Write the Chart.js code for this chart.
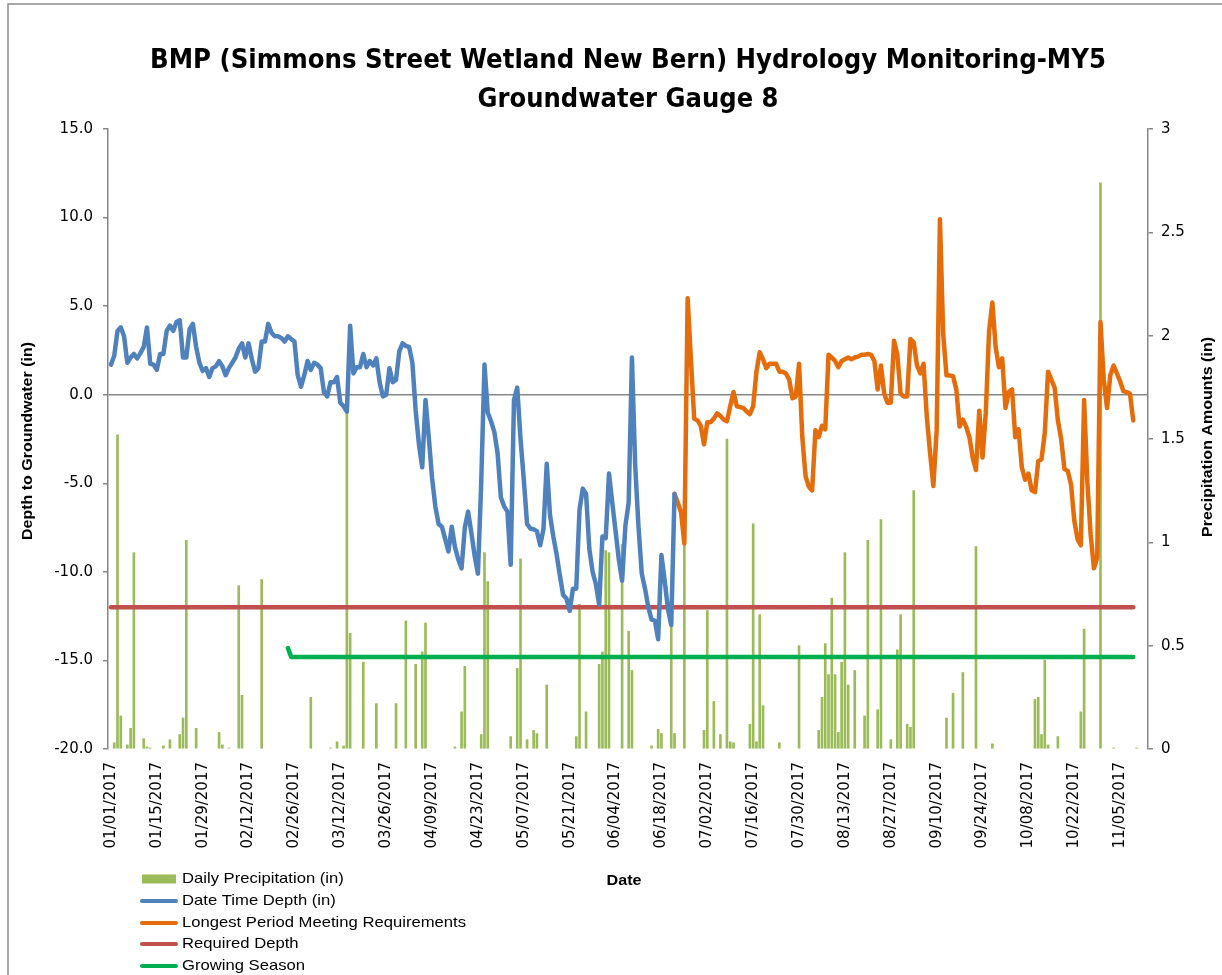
<!DOCTYPE html>
<html>
<head>
<meta charset="utf-8">
<title>Groundwater Gauge 8</title>
<script src="https://cdn.jsdelivr.net/npm/chart.js"></script>
<style>
  html, body { margin: 0; padding: 0; background: #fff; }
  #wrap { position: relative; width: 1222px; height: 975px; }
</style>
</head>
<body>
<div id="wrap"><canvas id="chart"></canvas></div>
<script>
// day 0 of the record
const startDate = new Date(2017, 0, 1);

// x labels every two weeks (days after startDate)
const labelDays = [0, 14, 28, 42, 56, 70, 84, 98, 112, 126, 140, 154, 168, 182, 196, 210, 224, 238, 252, 266, 280, 294, 308];

// Date Time Depth (in), one value a day from day 0 to day 172
const depthDaily = [
  1.7, 2.2, 3.6, 3.8, 3.3, 1.8, 2.1, 2.3, 2.05, 2.35,
  2.7, 3.8, 1.75, 1.7, 1.4, 2.3, 2.3, 3.6, 3.9, 3.6,
  4.1, 4.2, 2.1, 2.1, 3.7, 4.0, 2.7, 1.8, 1.35, 1.5,
  1.0, 1.5, 1.6, 1.9, 1.6, 1.1, 1.5, 1.8, 2.1, 2.6,
  2.9, 2.1, 2.9, 2.0, 1.3, 1.5, 3.0, 3.0, 4.0, 3.5,
  3.3, 3.3, 3.2, 3.0, 3.3, 3.15, 3.0, 1.1, 0.45, 1.1,
  1.9, 1.4, 1.8, 1.7, 1.5, 0.15, -0.1, 0.7, 0.7, 1.0,
  -0.45, -0.65, -0.95, 3.9, 1.2, 1.55, 1.55, 2.3, 1.55, 1.9,
  1.65, 2.05, 0.7, -0.1, 0.0, 1.5, 0.7, 0.85, 2.45, 2.9,
  2.75, 2.7, 1.8, -0.9, -2.8, -4.1, -0.3, -2.4, -4.7, -6.3,
  -7.3, -7.45, -8.15, -8.85, -7.45, -8.6, -9.3, -9.8, -7.5, -6.6,
  -7.8, -9.1, -10.1, -5.0, 1.7, -1.0, -1.5, -2.1, -3.3, -5.8,
  -6.3, -6.6, -9.6, -0.3, 0.4, -2.5, -4.8, -7.3, -7.55, -7.6,
  -7.7, -8.5, -7.6, -3.9, -6.8, -8.0, -9.0, -10.2, -11.3, -11.5,
  -12.2, -10.95, -10.95, -6.5, -5.3, -5.6, -8.7, -10.0, -10.7, -11.85,
  -8.0, -8.1, -4.45, -6.1, -7.7, -9.3, -10.5, -7.4, -6.1, 2.1,
  -4.0, -7.45, -10.1, -10.95, -12.0, -12.7, -12.75, -13.8, -9.05, -10.5,
  -12.1, -13.0, -5.6
];

// Longest Period Meeting Requirements (in), day 172 to day 312
const longestFirstDay = 172;
const longestDaily = [
  -5.6, -6.1, -6.65, -8.4, 5.45, 2.0, -1.35, -1.45, -1.75, -2.8,
  -1.55, -1.55, -1.35, -1.05, -1.2, -1.4, -1.5, -0.65, 0.15, -0.65,
  -0.7, -0.75, -0.95, -1.1, -0.65, 1.3, 2.4, 2.0, 1.5, 1.75,
  1.75, 1.75, 1.3, 1.3, 1.2, 0.85, -0.2, -0.1, 1.75, -2.4,
  -4.6, -5.2, -5.4, -2.0, -2.4, -1.75, -1.95, 2.25, 2.1, 1.9,
  1.55, 1.9, 2.0, 2.1, 2.0, 2.1, 2.15, 2.25, 2.25, 2.3,
  2.25, 1.9, 0.3, 1.65, 0.05, -0.45, -0.45, 3.05, 2.25, 0.05,
  -0.1, -0.1, 3.15, 2.95, 1.65, 1.2, 1.75, -1.25, -3.3, -5.15,
  -2.0, 9.9, 3.4, 1.1, 1.08, 1.05, 0.3, -1.8, -1.4, -1.8,
  -2.4, -3.55, -4.25, -0.9, -3.55, -1.0, 3.6, 5.2, 2.7, 1.55,
  2.05, -0.75, 0.15, 0.3, -2.4, -1.95, -4.1, -4.8, -4.45, -5.4,
  -5.5, -3.75, -3.65, -2.15, 1.3, 0.85, 0.4, -1.45, -2.5, -4.2,
  -4.3, -5.05, -7.1, -8.15, -8.5, -0.3, -4.95, -7.9, -9.8, -9.2,
  4.1, 0.85, -0.75, 1.1, 1.65, 1.2, 0.75, 0.2, 0.15, 0.05,
  -1.45
];

// Required Depth (in)
const requiredDays = [0, 312];
const requiredDepth = [-12, -12];

// Growing Season
const growingDays = [54, 55, 312];
const growingDepth = [-14.3, -14.8, -14.8];

// Daily Precipitation (in), only the days with rain
const precipDays = [
  1, 2, 3, 5, 6, 7, 10, 11, 12, 16,
  18, 21, 22, 23, 26, 33, 34, 36, 39, 40,
  46, 61, 67, 69, 71, 72, 73, 77, 81, 87,
  90, 93, 95, 96, 105, 107, 108, 113, 114, 115,
  122, 124, 125, 127, 129, 130, 133, 142, 143, 145,
  149, 150, 151, 152, 156, 158, 159, 165, 167, 168,
  171, 172, 175, 181, 182, 184, 186, 188, 189, 190,
  195, 196, 197, 198, 199, 204, 210, 216, 217, 218,
  219, 220, 221, 222, 223, 224, 225, 227, 230, 231,
  234, 235, 238, 240, 241, 243, 244, 245, 255, 257,
  260, 264, 269, 282, 283, 284, 285, 286, 289, 296,
  297, 302, 306, 313
];
const precipIn = [
  0.03, 1.52, 0.16, 0.02, 0.10, 0.95, 0.05, 0.01, 0.005, 0.015,
  0.045, 0.07, 0.15, 1.01, 0.10, 0.08, 0.02, 0.005, 0.79, 0.26,
  0.82, 0.25, 0.005, 0.035, 0.015, 1.68, 0.56, 0.42, 0.22, 0.22,
  0.62, 0.41, 0.47, 0.61, 0.01, 0.18, 0.40, 0.07, 0.95, 0.81,
  0.06, 0.39, 0.92, 0.045, 0.09, 0.075, 0.31, 0.06, 0.70, 0.18,
  0.41, 0.47, 0.96, 0.95, 0.99, 0.57, 0.38, 0.015, 0.095, 0.075,
  0.61, 0.075, 1.05, 0.09, 0.67, 0.23, 0.07, 1.50, 0.035, 0.03,
  0.12, 1.09, 0.035, 0.65, 0.21, 0.03, 0.50, 0.09, 0.25, 0.51,
  0.36, 0.73, 0.36, 0.08, 0.42, 0.95, 0.31, 0.38, 0.16, 1.01,
  0.19, 1.11, 0.045, 0.48, 0.65, 0.12, 0.105, 1.25, 0.15, 0.27,
  0.37, 0.98, 0.025, 0.24, 0.25, 0.07, 0.43, 0.02, 0.06, 0.18,
  0.58, 2.74, 0.005, 0.005
];

const colors = {
  precip: '#9BBB59',
  depth: '#4F81BD',
  longest: '#E46C0A',
  required: '#C0504D',
  growing: '#00B050',
  axis: '#868686'
};

function fmtDate(day) {
  const d = new Date(startDate.getFullYear(), startDate.getMonth(), startDate.getDate() + day);
  const mm = String(d.getMonth() + 1).padStart(2, '0');
  const dd = String(d.getDate()).padStart(2, '0');
  return mm + '/' + dd + '/' + d.getFullYear();
}

function toPoints(days, values) {
  return values.map((y, i) => ({ x: days[i], y: y }));
}

function dailyPoints(firstDay, values) {
  return values.map((y, i) => ({ x: firstDay + i, y: y }));
}

// text squeezed / stretched to the width it has in the picture
function fittedText(ctx, text, x, y, width, font, align) {
  ctx.font = font;
  const natural = ctx.measureText(text).width;
  ctx.save();
  ctx.translate(x, y);
  ctx.scale(width / natural, 1);
  ctx.textAlign = align;
  ctx.fillText(text, 0, 0);
  ctx.restore();
}

const sheetDecor = {
  id: 'sheetDecor',
  beforeDraw(chart) {
    const { ctx, width, height } = chart;
    ctx.save();
    ctx.fillStyle = '#fff';
    ctx.fillRect(0, 0, width, height);
    ctx.strokeStyle = '#8c8c8c';
    ctx.lineWidth = 1.5;
    ctx.beginPath();
    ctx.moveTo(8, height + 5);
    ctx.lineTo(8, 4);
    ctx.lineTo(width + 5, 4);
    ctx.stroke();
    ctx.restore();
  },
  afterDraw(chart) {
    const ctx = chart.ctx;
    ctx.save();
    ctx.fillStyle = '#000';
    ctx.textBaseline = 'alphabetic';

    // title
    const titleFont = 'bold 26px "DejaVu Sans", sans-serif';
    fittedText(ctx, 'BMP (Simmons Street Wetland New Bern) Hydrology Monitoring-MY5', 628, 68, 956, titleFont, 'center');
    fittedText(ctx, 'Groundwater Gauge 8', 628, 107, 301, titleFont, 'center');

    // axis titles
    const axisFont = 'bold 14px "Liberation Sans", Arial, sans-serif';
    ctx.textBaseline = 'middle';
    ctx.save();
    ctx.translate(28, 441);
    ctx.rotate(-Math.PI / 2);
    fittedText(ctx, 'Depth to Groundwater (in)', 0, 0, 198, axisFont, 'center');
    ctx.restore();
    ctx.save();
    ctx.translate(1208, 437);
    ctx.rotate(-Math.PI / 2);
    fittedText(ctx, 'Precipitation Amounts (in)', 0, 0, 200, axisFont, 'center');
    ctx.restore();
    fittedText(ctx, 'Date', 624, 881, 35, 'bold 15px "Liberation Sans", Arial, sans-serif', 'center');

    // legend, one entry a row
    const legendFont = '15px "Liberation Sans", Arial, sans-serif';
    ctx.font = legendFont;
    const sets = chart.data.datasets;
    const longest = Math.max(...sets.map(s => ctx.measureText(s.label).width));
    const sx = 284 / longest;
    const rows = [879, 901, 923, 944, 966];
    sets.forEach((s, i) => {
      const y = rows[i];
      if (s.type === 'bar') {
        ctx.fillStyle = s.backgroundColor;
        ctx.fillRect(142, y - 4.5, 34, 9);
      } else {
        ctx.strokeStyle = s.borderColor;
        ctx.lineWidth = 4;
        ctx.lineCap = 'round';
        ctx.beginPath();
        ctx.moveTo(142, y);
        ctx.lineTo(176, y);
        ctx.stroke();
      }
      ctx.fillStyle = '#000';
      ctx.font = legendFont;
      const w = ctx.measureText(s.label).width * sx;
      fittedText(ctx, s.label, 182, y, w, legendFont, 'left');
    });
    ctx.restore();
  }
};

const tickFont = { family: '"DejaVu Sans", sans-serif', size: 15 };

new Chart(document.getElementById('chart'), {
  type: 'line',
  data: {
    datasets: [
      {
        type: 'bar',
        label: 'Daily Precipitation (in)',
        data: toPoints(precipDays, precipIn),
        yAxisID: 'y1',
        backgroundColor: colors.precip,
        barThickness: 2,
        order: 5
      },
      {
        label: 'Date Time Depth (in)',
        data: dailyPoints(0, depthDaily),
        yAxisID: 'y',
        borderColor: colors.depth,
        order: 1
      },
      {
        label: 'Longest Period Meeting Requirements',
        data: dailyPoints(longestFirstDay, longestDaily),
        yAxisID: 'y',
        borderColor: colors.longest,
        order: 1
      },
      {
        label: 'Required Depth',
        data: toPoints(requiredDays, requiredDepth),
        yAxisID: 'y',
        borderColor: colors.required,
        order: 3
      },
      {
        label: 'Growing Season',
        data: toPoints(growingDays, growingDepth),
        yAxisID: 'y',
        borderColor: colors.growing,
        order: 3
      }
    ]
  },
  options: {
    responsive: true,
    maintainAspectRatio: false,
    animation: false,
    devicePixelRatio: 1,
    layout: { padding: { top: 129, left: 0, right: 0, bottom: 0 } },
    plugins: {
      legend: { display: false },
      title: { display: false },
      tooltip: { enabled: false }
    },
    elements: {
      point: { radius: 0 },
      line: { borderWidth: 4.5, tension: 0, borderCapStyle: 'round', borderJoinStyle: 'round', fill: false }
    },
    scales: {
      x: {
        type: 'linear',
        min: -0.9,
        max: 316.5,
        offset: false,
        grid: { display: false, drawTicks: false },
        border: { display: false },
        afterBuildTicks: s => { s.ticks = labelDays.map(v => ({ value: v })); },
        afterFit: s => { s.height = 226; },
        ticks: {
          autoSkip: false,
          minRotation: 90,
          maxRotation: 90,
          padding: 13,
          color: '#000',
          font: tickFont,
          callback: v => fmtDate(v)
        }
      },
      y: {
        position: 'left',
        min: -20,
        max: 15,
        afterFit: s => { s.width = 108; },
        ticks: { stepSize: 5, padding: 10, color: '#000', font: tickFont, callback: v => v.toFixed(1) },
        grid: {
          color: c => (c.tick && c.tick.value === 0 ? colors.axis : 'rgba(0,0,0,0)'),
          lineWidth: 1.5,
          tickColor: colors.axis,
          tickLength: 5
        },
        border: { display: true, color: colors.axis, width: 1.5 }
      },
      y1: {
        position: 'right',
        min: 0,
        max: 3,
        afterFit: s => { s.width = 74; },
        ticks: { stepSize: 0.5, padding: 8, color: '#000', font: tickFont, callback: v => String(Number(v.toFixed(1))) },
        grid: { drawOnChartArea: false, color: colors.axis, tickLength: 5, lineWidth: 1.5 },
        border: { display: true, color: colors.axis, width: 1.5 }
      }
    }
  },
  plugins: [sheetDecor]
});
</script>
</body>
</html>
